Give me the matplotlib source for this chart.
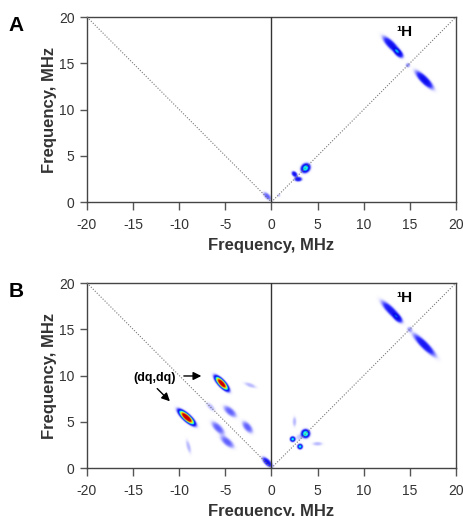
import numpy as np
import matplotlib.pyplot as plt
from matplotlib.colors import LinearSegmentedColormap

"""two HYSCORE-style 2D frequency maps (A, B)"""

plt.rcParams['font.family'] = ['Liberation Sans', 'DejaVu Sans']
plt.rcParams['axes.unicode_minus'] = False

# peak tables: centre x, centre y, sigma along, sigma across, angle (deg), amplitude
a_x = [13.0, 13.8, 16.6, 14.8, 3.7, 2.5, 2.9, -0.45, 0.8]
a_y = [17.0, 16.1, 13.2, 14.8, 3.65, 3.0, 2.45, 0.6, 0.7]
a_sl = [0.85, 0.45, 0.9, 0.18, 0.38, 0.25, 0.3, 0.4, 0.12]
a_sw = [0.28, 0.25, 0.28, 0.18, 0.32, 0.18, 0.18, 0.2, 0.12]
a_ang = [-45, -45, -45, 0, 45, -45, 0, -45, 0]
a_amp = [0.36, 0.32, 0.38, 0.15, 0.58, 0.36, 0.34, 0.2, 0.1]

b_x = [13.0, 13.7, 16.6, 15.0, -9.2, -5.4, -2.3, -5.8, -4.8, -4.5, -2.6,
       -6.6, -9.0, -0.45, 3.7, 2.3, 3.1, 2.5, 5.0, 3.0]
b_y = [17.0, 16.2, 13.3, 15.0, 5.45, 9.15, 8.95, 4.3, 2.8, 6.1, 4.4,
       6.6, 2.3, 0.6, 3.7, 3.1, 2.3, 5.0, 2.6, 3.3]
b_sl = [1.0, 0.45, 1.15, 0.22, 0.78, 0.7, 0.5, 0.65, 0.65, 0.6, 0.55,
        0.45, 0.55, 0.5, 0.32, 0.2, 0.2, 0.4, 0.4, 0.25]
b_sw = [0.28, 0.25, 0.28, 0.22, 0.26, 0.25, 0.17, 0.28, 0.28, 0.28, 0.28,
        0.2, 0.17, 0.22, 0.32, 0.2, 0.2, 0.16, 0.16, 0.25]
b_ang = [-45, -45, -45, 0, -42, -47, -20, -45, -40, -40, -50,
         -45, -75, -45, 0, 0, 0, 90, 0, 0]
b_amp = [0.34, 0.2, 0.34, 0.12, 1.15, 1.1, 0.1, 0.2, 0.2, 0.2, 0.2,
         0.1, 0.1, 0.36, 0.62, 0.56, 0.56, 0.1, 0.1, 0.08]

ticks_x = [-20, -15, -10, -5, 0, 5, 10, 15, 20]
ticks_y = [0, 5, 10, 15, 20]

cmap = LinearSegmentedColormap.from_list('hys', [
    (0.0, 'white'), (0.04, '#eeeeff'), (0.12, '#a8a8ff'), (0.25, '#3030ff'),
    (0.42, '#0000e8'), (0.55, '#00ffff'), (0.68, '#80ff80'),
    (0.8, '#ffff00'), (0.9, '#ff8000'), (1.0, '#cc0000')])

xs = np.linspace(-20, 20, 801)
ys = np.linspace(0, 20, 401)
X, Y = np.meshgrid(xs, ys)


def spectrum(px, py, sl, sw, ang, amp):
    z = np.zeros_like(X)
    for x0, y0, a, w, t, h in zip(px, py, sl, sw, ang, amp):
        t = np.deg2rad(t)
        u = (X - x0) * np.cos(t) + (Y - y0) * np.sin(t)
        v = -(X - x0) * np.sin(t) + (Y - y0) * np.cos(t)
        r2 = 0.5 * (u ** 2 / a ** 2 + v ** 2 / w ** 2)
        z += h * np.exp(-r2 ** 1.5)
    return np.clip(z, 0, 1)


fig = plt.figure(figsize=(4.64, 5.16), dpi=100)
axA = fig.add_axes([0.1875, 0.6085, 0.795, 0.3585])
axB = fig.add_axes([0.1875, 0.093, 0.795, 0.3585])

for ax, z, letter in [(axA, spectrum(a_x, a_y, a_sl, a_sw, a_ang, a_amp), 'A'),
                      (axB, spectrum(b_x, b_y, b_sl, b_sw, b_ang, b_amp), 'B')]:
    ax.imshow(z, extent=[-20, 20, 0, 20], origin='lower', cmap=cmap,
              vmin=0, vmax=1, aspect='auto', interpolation='bilinear', zorder=2)
    ax.set_xlim(-20, 20)
    ax.set_ylim(0, 20)
    ax.set_xticks(ticks_x)
    ax.set_yticks(ticks_y)
    ax.grid(True, color='#e2e2e2', lw=0.8, zorder=1)
    ax.set_axisbelow(True)
    ax.plot([-20, 0, 20], [20, 0, 20], ls=(0, (1, 1.5)), color='#777777',
            lw=0.8, zorder=3)
    ax.axvline(0, color='#333333', lw=1, zorder=3)
    for s in ax.spines.values():
        s.set_color('#444444')
        s.set_linewidth(1)
    ax.tick_params(axis='x', length=5.5, width=1, color='#555555',
                   labelsize=10, labelcolor='#333333', pad=6)
    ax.tick_params(axis='y', length=5, width=1, color='#555555',
                   labelsize=10, labelcolor='#333333', pad=4)
    ax.set_xlabel('Frequency, MHz', fontsize=12, fontweight='bold',
                  color='#333333', labelpad=4)
    ax.set_ylabel('Frequency, MHz', fontsize=12, fontweight='bold',
                  color='#333333', labelpad=1)
    ax.text(14.4, 18.4, '¹H', fontsize=11, fontweight='bold',
            ha='center', va='center', zorder=4)
    fig.text(0.035, ax.get_position().y1 - 0.017, letter, fontsize=15,
             fontweight='bold', ha='center', va='center')

axB.text(-12.7, 9.7, '(dq,dq)', fontsize=9, fontweight='bold',
         ha='center', va='center', zorder=4)
axB.annotate('', xy=(-7.3, 9.95), xytext=(-9.8, 9.95),
             arrowprops=dict(arrowstyle='-|>', color='black', lw=1,
                             mutation_scale=12), zorder=4)
axB.annotate('', xy=(-10.8, 7.0), xytext=(-12.6, 8.8),
             arrowprops=dict(arrowstyle='-|>', color='black', lw=1,
                             mutation_scale=12), zorder=4)

fig.savefig('out.png', dpi=100)
